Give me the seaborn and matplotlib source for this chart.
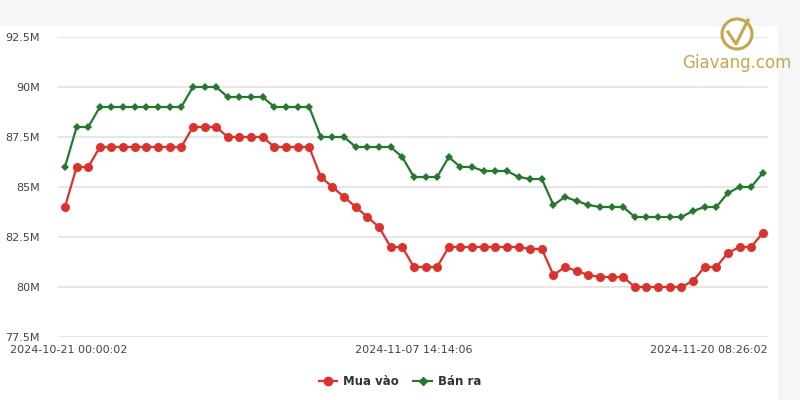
import numpy as np
import pandas as pd
import seaborn as sns
import matplotlib.pyplot as plt
import matplotlib.transforms as mtransforms
from matplotlib.patches import Rectangle, Ellipse
from matplotlib.lines import Line2D

# Giá vàng (triệu đồng)
mua_vao = [84.0, 86.0, 86.0, 87.0, 87.0, 87.0, 87.0, 87.0, 87.0, 87.0, 87.0,
           88.0, 88.0, 88.0, 87.5, 87.5, 87.5, 87.5, 87.0, 87.0, 87.0, 87.0,
           85.5, 85.0, 84.5, 84.0, 83.5, 83.0, 82.0, 82.0, 81.0, 81.0, 81.0,
           82.0, 82.0, 82.0, 82.0, 82.0, 82.0, 82.0, 81.9, 81.9, 80.6, 81.0,
           80.8, 80.6, 80.5, 80.5, 80.5, 80.0, 80.0, 80.0, 80.0, 80.0, 80.3,
           81.0, 81.0, 81.7, 82.0, 82.0, 82.7]
ban_ra = [86.0, 88.0, 88.0, 89.0, 89.0, 89.0, 89.0, 89.0, 89.0, 89.0, 89.0,
          90.0, 90.0, 90.0, 89.5, 89.5, 89.5, 89.5, 89.0, 89.0, 89.0, 89.0,
          87.5, 87.5, 87.5, 87.0, 87.0, 87.0, 87.0, 86.5, 85.5, 85.5, 85.5,
          86.5, 86.0, 86.0, 85.8, 85.8, 85.8, 85.5, 85.4, 85.4, 84.1, 84.5,
          84.3, 84.1, 84.0, 84.0, 84.0, 83.5, 83.5, 83.5, 83.5, 83.5, 83.8,
          84.0, 84.0, 84.7, 85.0, 85.0, 85.7]
tick_pos = [0, 30, 60]
tick_labels = ['2024-10-21 00:00:02', '2024-11-07 14:14:06', '2024-11-20 08:26:02']
y_ticks = [77.5, 80, 82.5, 85, 87.5, 90, 92.5]

red = '#e0302a'
green = '#23792c'

df = pd.DataFrame({'idx': range(len(mua_vao)), 'Mua vào': mua_vao, 'Bán ra': ban_ra})

fig = plt.figure(figsize=(8, 4), dpi=100)
fig.patch.set_facecolor('#f5f6f8')
# white card
fig.add_artist(Rectangle((0, 0), 778 / 800, 374 / 400, transform=fig.transFigure,
                         facecolor='white', edgecolor='none', zorder=0))

ax = fig.add_axes([58 / 800, 63 / 400, 710 / 800, 300 / 400])
ax.set_facecolor('none')

sns.lineplot(data=df, x='idx', y='Mua vào', ax=ax, color=red, linewidth=1.6,
             marker='o', markersize=6.5, markeredgewidth=0, zorder=3)
sns.lineplot(data=df, x='idx', y='Bán ra', ax=ax, color=green, linewidth=1.6,
             marker='D', markersize=4.5, markeredgewidth=0, zorder=3)

ax.set_xlim(-0.6, 60.45)
ax.set_ylim(77.5, 92.5)
ax.set_yticks(y_ticks)
ax.set_yticklabels([f'{v:g}M' for v in y_ticks])
ax.set_xticks(tick_pos)
ax.set_xticklabels(tick_labels)
ax.set_xlabel('')
ax.set_ylabel('')
ax.grid(axis='y', color='#e4e4e4', linewidth=1.3)
ax.grid(axis='x', visible=False)
for s in ax.spines.values():
    s.set_visible(False)
ax.tick_params(axis='both', length=0, labelsize=8, labelcolor='#444')
ax.tick_params(axis='y', pad=13)
ax.tick_params(axis='x', pad=6)

# first / last x labels kept inside the card
xl = ax.get_xticklabels()
xl[0].set_horizontalalignment('left')
xl[0].set_transform(xl[0].get_transform() +
                    mtransforms.ScaledTranslation(-0.55, 0, fig.dpi_scale_trans))
xl[2].set_horizontalalignment('right')
xl[2].set_transform(xl[2].get_transform() +
                    mtransforms.ScaledTranslation(0.05, 0, fig.dpi_scale_trans))

# legend
handles = [Line2D([], [], color=red, marker='o', markersize=6, lw=1.6),
           Line2D([], [], color=green, marker='D', markersize=4.5, lw=1.6)]
fig.legend(handles, ['Mua vào', 'Bán ra'], loc='center', bbox_to_anchor=(0.5, 0.047),
           ncol=2, frameon=False, handlelength=1.6, columnspacing=1.2, handletextpad=0.5,
           prop={'size': 8.5, 'weight': 'bold'}, labelcolor='#333')

# logo
gold = '#c9a54a'
fig.add_artist(Ellipse((737 / 800, 1 - 34 / 400), 30 / 800, 30 / 400, transform=fig.transFigure,
                       facecolor='white', edgecolor=gold, linewidth=2.2, zorder=5))
fig.add_artist(Line2D([728 / 800, 736 / 800, 748 / 800], [1 - 32 / 400, 1 - 44 / 400, 1 - 20 / 400],
                      transform=fig.transFigure, color=gold, lw=2.2, zorder=6))
fig.text(737 / 800, 1 - 63 / 400, 'Giavang.com', ha='center', va='center',
         fontsize=12, color=gold, zorder=6)

fig.savefig('out.png', dpi=100, facecolor=fig.get_facecolor())
